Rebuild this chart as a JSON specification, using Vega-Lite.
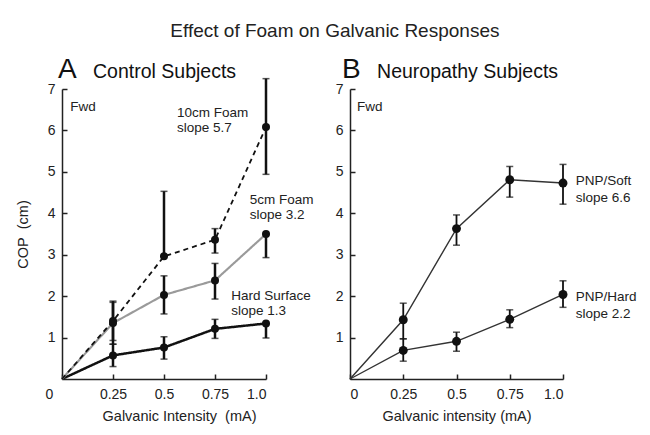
{
  "$schema": "https://vega.github.io/schema/vega-lite/v6.json",
  "padding": {"left": 15, "top": 22, "right": 5, "bottom": 5},
  "title": {"text": "Effect of Foam on Galvanic Responses", "fontSize": 19, "fontWeight": "normal", "font": "Liberation Sans", "color": "#222", "anchor": "middle", "dx": 9, "offset": 15},
  "config": {
    "font": "Liberation Sans",
    "view": {"stroke": null},
    "axis": {"grid": false, "domainColor": "#222", "tickColor": "#222", "labelColor": "#222", "titleColor": "#222", "labelFontSize": 14, "titleFontSize": 14.5, "titleFontWeight": "normal", "tickSize": -5, "domainWidth": 1.5, "tickWidth": 1.5, "labelFont": "Liberation Sans", "titleFont": "Liberation Sans"}
  },
  "bounds": "flush",
  "spacing": 84,
  "datasets": {
    "a": [
      {"series": "Hard Surface", "x": 0, "y": 0, "lo": 0, "hi": 0},
      {"series": "Hard Surface", "x": 0.25, "y": 0.57, "lo": 0.3, "hi": 0.84},
      {"series": "Hard Surface", "x": 0.5, "y": 0.76, "lo": 0.48, "hi": 1.02},
      {"series": "Hard Surface", "x": 0.75, "y": 1.21, "lo": 0.98, "hi": 1.44},
      {"series": "Hard Surface", "x": 1, "y": 1.34, "lo": 0.99, "hi": 1.34},
      {"series": "5cm Foam", "x": 0, "y": 0, "lo": 0, "hi": 0},
      {"series": "5cm Foam", "x": 0.25, "y": 1.35, "lo": 0.84, "hi": 1.85},
      {"series": "5cm Foam", "x": 0.5, "y": 2.03, "lo": 1.57, "hi": 2.49},
      {"series": "5cm Foam", "x": 0.75, "y": 2.38, "lo": 1.93, "hi": 2.79},
      {"series": "5cm Foam", "x": 1, "y": 3.5, "lo": 2.93, "hi": 3.5},
      {"series": "10cm Foam", "x": 0, "y": 0, "lo": 0, "hi": 0},
      {"series": "10cm Foam", "x": 0.25, "y": 1.4, "lo": 0.93, "hi": 1.88},
      {"series": "10cm Foam", "x": 0.5, "y": 2.96, "lo": 2.96, "hi": 4.53},
      {"series": "10cm Foam", "x": 0.75, "y": 3.36, "lo": 3.04, "hi": 3.63},
      {"series": "10cm Foam", "x": 1, "y": 6.08, "lo": 4.94, "hi": 7.25}
    ],
    "b": [
      {"series": "PNP/Soft", "x": 0, "y": 0, "lo": 0, "hi": 0},
      {"series": "PNP/Soft", "x": 0.25, "y": 1.43, "lo": 0.97, "hi": 1.83},
      {"series": "PNP/Soft", "x": 0.5, "y": 3.63, "lo": 3.23, "hi": 3.96},
      {"series": "PNP/Soft", "x": 0.75, "y": 4.81, "lo": 4.39, "hi": 5.13},
      {"series": "PNP/Soft", "x": 1, "y": 4.73, "lo": 4.22, "hi": 5.18},
      {"series": "PNP/Hard", "x": 0, "y": 0, "lo": 0, "hi": 0},
      {"series": "PNP/Hard", "x": 0.25, "y": 0.69, "lo": 0.43, "hi": 0.97},
      {"series": "PNP/Hard", "x": 0.5, "y": 0.91, "lo": 0.67, "hi": 1.13},
      {"series": "PNP/Hard", "x": 0.75, "y": 1.44, "lo": 1.24, "hi": 1.67},
      {"series": "PNP/Hard", "x": 1, "y": 2.04, "lo": 1.73, "hi": 2.37}
    ],
    "notesA": [
      {"x": 0.04, "y": 6.56, "text": "Fwd"},
      {"x": 0.564, "y": 6.43, "text": "10cm Foam"},
      {"x": 0.564, "y": 6.07, "text": "slope 5.7"},
      {"x": 0.92, "y": 4.31, "text": "5cm Foam"},
      {"x": 0.92, "y": 3.96, "text": "slope 3.2"},
      {"x": 0.83, "y": 2.0, "text": "Hard Surface"},
      {"x": 0.83, "y": 1.64, "text": "slope 1.3"}
    ],
    "notesB": [
      {"x": 0.033, "y": 6.56, "text": "Fwd"},
      {"x": 1.06, "y": 4.79, "text": "PNP/Soft"},
      {"x": 1.06, "y": 4.37, "text": "slope 6.6"},
      {"x": 1.06, "y": 1.98, "text": "PNP/Hard"},
      {"x": 1.06, "y": 1.57, "text": "slope 2.2"}
    ],
    "headA": [{"x": -0.02, "y": 7.26, "letter": "A", "sub": "Control Subjects", "sx": 0.152}],
    "headB": [{"x": -0.038, "y": 7.26, "letter": "B", "sub": "Neuropathy Subjects", "sx": 0.127}]
  },
  "hconcat": [
    {
      "width": 204,
      "height": 290,
      "data": {"name": "a"},
      "encoding": {
        "x": {"field": "x", "type": "quantitative", "scale": {"domain": [0, 1], "nice": false},
              "axis": {"title": "Galvanic Intensity\u00a0 (mA)", "values": [0, 0.25, 0.5, 0.75, 1],
                       "labelExpr": "datum.value == 1 ? '1.0' : toString(datum.value)",
                       "labelOffset": {"condition": {"test": "datum.value == 0", "value": -17}, "value": 0},
                       "labelPadding": 13, "titlePadding": 8, "titleX": 117}},
        "y": {"field": "y", "type": "quantitative", "scale": {"domain": [0, 7], "nice": false},
              "axis": {"title": "COP\u00a0 (cm)", "values": [1, 2, 3, 4, 5, 6, 7], "format": "d", "labelPadding": 12, "titlePadding": 17}}
      },
      "layer": [
        {
          "mark": {"type": "line"},
          "encoding": {
            "color": {"field": "series", "type": "nominal", "scale": {"domain": ["Hard Surface", "5cm Foam", "10cm Foam"], "range": ["#111111", "#9a9a9a", "#111111"]}, "legend": null},
            "strokeDash": {"field": "series", "type": "nominal", "scale": {"domain": ["Hard Surface", "5cm Foam", "10cm Foam"], "range": [[1, 0], [1, 0], [5, 4]]}, "legend": null},
            "strokeWidth": {"field": "series", "type": "nominal", "scale": {"domain": ["Hard Surface", "5cm Foam", "10cm Foam"], "range": [2.5, 1.8, 2.5]}, "legend": null}
          }
        },
        {
          "transform": [{"filter": "datum.x > 0"}],
          "mark": {"type": "rule", "color": "#111", "strokeWidth": 2.5},
          "encoding": {"y": {"field": "lo", "type": "quantitative"}, "y2": {"field": "hi"}}
        },
        {
          "transform": [{"filter": "datum.x > 0"}],
          "mark": {"type": "tick", "orient": "horizontal", "color": "#111", "size": 7, "thickness": 1.5},
          "encoding": {"y": {"field": "lo", "type": "quantitative"}}
        },
        {
          "transform": [{"filter": "datum.x > 0"}],
          "mark": {"type": "tick", "orient": "horizontal", "color": "#111", "size": 7, "thickness": 1.5},
          "encoding": {"y": {"field": "hi", "type": "quantitative"}}
        },
        {
          "transform": [{"filter": "datum.x > 0"}],
          "mark": {"type": "point", "filled": true, "opacity": 1, "color": "#111", "size": 64},
          "encoding": {}
        },
        {
          "data": {"name": "notesA"},
          "mark": {"type": "text", "align": "left", "baseline": "middle", "fontSize": 13.5, "color": "#222"},
          "encoding": {"text": {"field": "text"}}
        },
        {
          "data": {"name": "headA"},
          "mark": {"type": "text", "align": "left", "baseline": "alphabetic", "fontSize": 28, "color": "#111"},
          "encoding": {"text": {"field": "letter"}}
        },
        {
          "data": {"name": "headA"},
          "mark": {"type": "text", "align": "left", "baseline": "alphabetic", "fontSize": 19.5, "color": "#111"},
          "encoding": {"x": {"field": "sx", "type": "quantitative"}, "text": {"field": "sub"}}
        }
      ]
    },
    {
      "width": 213,
      "height": 290,
      "data": {"name": "b"},
      "encoding": {
        "x": {"field": "x", "type": "quantitative", "scale": {"domain": [0, 1], "nice": false},
              "axis": {"title": "Galvanic intensity (mA)", "values": [0, 0.25, 0.5, 0.75, 1],
                       "labelExpr": "datum.value == 1 ? '1.0' : toString(datum.value)",
                       "labelPadding": 13, "titlePadding": 8}},
        "y": {"field": "y", "type": "quantitative", "scale": {"domain": [0, 7], "nice": false},
              "axis": {"title": null, "values": [1, 2, 3, 4, 5, 6, 7], "format": "d", "labelPadding": 12}}
      },
      "layer": [
        {
          "mark": {"type": "line", "color": "#333", "strokeWidth": 1.4},
          "encoding": {"detail": {"field": "series", "type": "nominal"}}
        },
        {
          "transform": [{"filter": "datum.x > 0"}],
          "mark": {"type": "rule", "color": "#111", "strokeWidth": 1.8},
          "encoding": {"y": {"field": "lo", "type": "quantitative"}, "y2": {"field": "hi"}}
        },
        {
          "transform": [{"filter": "datum.x > 0"}],
          "mark": {"type": "tick", "orient": "horizontal", "color": "#111", "size": 7, "thickness": 1.5},
          "encoding": {"y": {"field": "lo", "type": "quantitative"}}
        },
        {
          "transform": [{"filter": "datum.x > 0"}],
          "mark": {"type": "tick", "orient": "horizontal", "color": "#111", "size": 7, "thickness": 1.5},
          "encoding": {"y": {"field": "hi", "type": "quantitative"}}
        },
        {
          "transform": [{"filter": "datum.x > 0"}],
          "mark": {"type": "point", "filled": true, "opacity": 1, "color": "#111", "size": 80},
          "encoding": {}
        },
        {
          "data": {"name": "notesB"},
          "mark": {"type": "text", "align": "left", "baseline": "middle", "fontSize": 13.5, "color": "#222"},
          "encoding": {"text": {"field": "text"}}
        },
        {
          "data": {"name": "headB"},
          "mark": {"type": "text", "align": "left", "baseline": "alphabetic", "fontSize": 28, "color": "#111"},
          "encoding": {"text": {"field": "letter"}}
        },
        {
          "data": {"name": "headB"},
          "mark": {"type": "text", "align": "left", "baseline": "alphabetic", "fontSize": 19.5, "color": "#111"},
          "encoding": {"x": {"field": "sx", "type": "quantitative"}, "text": {"field": "sub"}}
        }
      ]
    }
  ]
}
